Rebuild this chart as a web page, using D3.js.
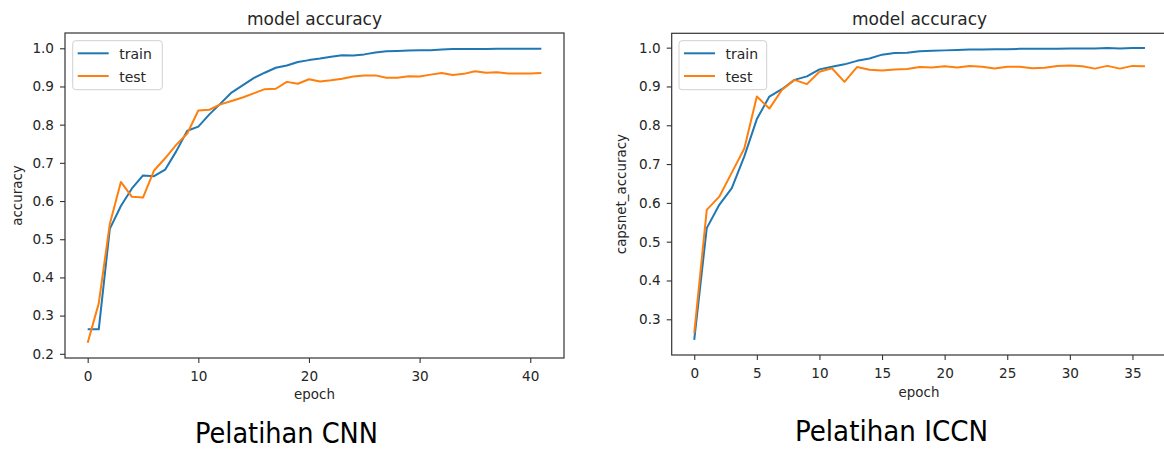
<!DOCTYPE html>
<html>
<head>
<meta charset="utf-8">
<script src="https://cdn.jsdelivr.net/npm/d3@7"></script>
<style>
  html, body { margin: 0; padding: 0; background: #fff; }
  svg { display: block; }
  text { font-family: "DejaVu Sans", sans-serif; fill: #262626; }
</style>
</head>
<body>
<svg id="chart" width="1164" height="449"></svg>
<script>
// ---------- DATA ----------
const cnnEpochs = d3.range(0, 42);
const cnnTrain = [0.264, 0.264, 0.527, 0.587, 0.633, 0.667, 0.665, 0.682, 0.730, 0.784,
  0.795, 0.827, 0.855, 0.884, 0.903, 0.922, 0.936, 0.949, 0.955, 0.964,
  0.969, 0.973, 0.978, 0.982, 0.981, 0.984, 0.989, 0.992, 0.993, 0.994,
  0.995, 0.995, 0.997, 0.998, 0.998, 0.998, 0.998, 0.999, 0.999, 0.999, 0.999, 0.999];
const cnnTest = [0.229, 0.332, 0.540, 0.650, 0.611, 0.609, 0.680, 0.712, 0.747, 0.777,
  0.837, 0.839, 0.853, 0.862, 0.871, 0.882, 0.893, 0.894, 0.912, 0.907,
  0.919, 0.913, 0.916, 0.920, 0.926, 0.929, 0.929, 0.923, 0.923, 0.927,
  0.926, 0.931, 0.935, 0.930, 0.933, 0.940, 0.936, 0.937, 0.934, 0.934, 0.934, 0.935];

const iccnEpochs = d3.range(0, 37);
const iccnTrain = [0.247, 0.535, 0.595, 0.638, 0.720, 0.816, 0.874, 0.893, 0.917, 0.926,
  0.944, 0.951, 0.957, 0.966, 0.972, 0.982, 0.986, 0.987, 0.991, 0.992,
  0.993, 0.994, 0.995, 0.995, 0.996, 0.996, 0.997, 0.997, 0.997, 0.997,
  0.998, 0.998, 0.998, 0.999, 0.998, 0.999, 0.999];
const iccnTest = [0.264, 0.582, 0.616, 0.678, 0.740, 0.874, 0.843, 0.891, 0.917, 0.906,
  0.938, 0.947, 0.912, 0.950, 0.943, 0.941, 0.944, 0.945, 0.950, 0.949,
  0.952, 0.949, 0.953, 0.951, 0.946, 0.951, 0.951, 0.947, 0.948, 0.953,
  0.954, 0.952, 0.946, 0.953, 0.946, 0.953, 0.952];

const cnnXTicks = [0, 10, 20, 30, 40];
const cnnYTicks = [0.2, 0.3, 0.4, 0.5, 0.6, 0.7, 0.8, 0.9, 1.0];
const iccnXTicks = [0, 5, 10, 15, 20, 25, 30, 35];
const iccnYTicks = [0.3, 0.4, 0.5, 0.6, 0.7, 0.8, 0.9, 1.0];

const seriesNames = ["train", "test"];
const colors = ["#1f77b4", "#ff7f0e"];

// ---------- DRAW ----------
const svg = d3.select("#chart");

function panel(cfg) {
  const x = d3.scaleLinear().domain(cfg.xDomain).range([cfg.left, cfg.right]);
  const y = d3.scaleLinear().domain(cfg.yDomain).range([cfg.bottom, cfg.top]);
  const g = svg.append("g");

  // lines
  const line = d3.line().x((d, i) => x(cfg.epochs[i])).y(d => y(d));
  [cfg.train, cfg.test].forEach((s, k) => {
    g.append("path").datum(s)
      .attr("d", line)
      .attr("fill", "none")
      .attr("stroke", colors[k])
      .attr("stroke-width", 2)
      .attr("stroke-linejoin", "round");
  });

  // frame
  g.append("rect")
    .attr("x", cfg.left).attr("y", cfg.top)
    .attr("width", cfg.right - cfg.left).attr("height", cfg.bottom - cfg.top)
    .attr("fill", "none").attr("stroke", "#333").attr("stroke-width", 1.2);

  // axes
  const fs = "13.6px";
  const ax = g.append("g").attr("transform", `translate(0,${cfg.bottom})`)
    .call(d3.axisBottom(x).tickValues(cfg.xTicks).tickFormat(d3.format("d"))
      .tickSize(5).tickSizeOuter(0).tickPadding(8));
  ax.select(".domain").remove();
  ax.selectAll("line").attr("stroke", "#333").attr("stroke-width", 1.1);
  ax.selectAll("text").style("font-size", fs).attr("fill", "#262626")
    .style("font-family", "DejaVu Sans");

  const ay = g.append("g").attr("transform", `translate(${cfg.left},0)`)
    .call(d3.axisLeft(y).tickValues(cfg.yTicks).tickFormat(d3.format(".1f"))
      .tickSize(5).tickSizeOuter(0).tickPadding(6));
  ay.select(".domain").remove();
  ay.selectAll("line").attr("stroke", "#333").attr("stroke-width", 1.1);
  ay.selectAll("text").style("font-size", fs).attr("fill", "#262626")
    .style("font-family", "DejaVu Sans");

  // title
  g.append("text").attr("x", (cfg.left + cfg.titleRight) / 2).attr("y", 25)
    .attr("text-anchor", "middle").style("font-size", "17px").text("model accuracy");

  // axis labels
  g.append("text").attr("x", cfg.xLabelX).attr("y", cfg.xLabelY)
    .attr("text-anchor", "middle").style("font-size", "13.4px").text("epoch");
  g.append("text")
    .attr("transform", `translate(${cfg.yLabelX},${(cfg.top + cfg.bottom) / 2}) rotate(-90)`)
    .attr("text-anchor", "middle").style("font-size", "13.4px").text(cfg.yLabel);

  // legend
  const lg = g.append("g");
  lg.append("rect")
    .attr("x", cfg.legX).attr("y", 40.7).attr("width", cfg.legW).attr("height", 49)
    .attr("rx", 3).attr("fill", "#fff").attr("fill-opacity", 0.8)
    .attr("stroke", "#d0d0d0").attr("stroke-width", 1);
  seriesNames.forEach((name, k) => {
    const ly = 53.3 + k * 22.7;
    lg.append("line")
      .attr("x1", cfg.legX + 5).attr("x2", cfg.legX + 36)
      .attr("y1", ly).attr("y2", ly)
      .attr("stroke", colors[k]).attr("stroke-width", 2);
    lg.append("text").attr("x", cfg.legX + 46.5).attr("y", ly + 5.6)
      .style("font-size", "14px").text(name);
  });

  // caption
  g.append("text").attr("x", cfg.capX).attr("y", cfg.capY)
    .attr("textLength", cfg.capW).attr("lengthAdjust", "spacingAndGlyphs")
    .style("font-family", "'DejaVu Sans Condensed', 'DejaVu Sans', sans-serif")
    .style("font-size", "28px").style("fill", "#000").text(cfg.caption);
}

panel({
  epochs: cnnEpochs, train: cnnTrain, test: cnnTest,
  xDomain: [-2.05, 43.05], yDomain: [0.189, 1.040],
  left: 65, right: 564, top: 33, bottom: 358, titleRight: 564,
  xTicks: cnnXTicks, yTicks: cnnYTicks,
  xLabelX: 314.5, xLabelY: 399, yLabelX: 22, yLabel: "accuracy",
  legX: 72.7, legW: 89.6,
  caption: "Pelatihan CNN", capX: 195, capY: 443, capW: 183
});

panel({
  epochs: iccnEpochs, train: iccnTrain, test: iccnTest,
  xDomain: [-1.8, 37.8], yDomain: [0.208, 1.037],
  left: 671.7, right: 1167.5, top: 33.3, bottom: 355, titleRight: 1167.5,
  xTicks: iccnXTicks, yTicks: iccnYTicks,
  xLabelX: 919, xLabelY: 397, yLabelX: 626, yLabel: "capsnet_accuracy",
  legX: 679, legW: 87.7,
  caption: "Pelatihan ICCN", capX: 795, capY: 441, capW: 193
});
</script>
</body>
</html>
